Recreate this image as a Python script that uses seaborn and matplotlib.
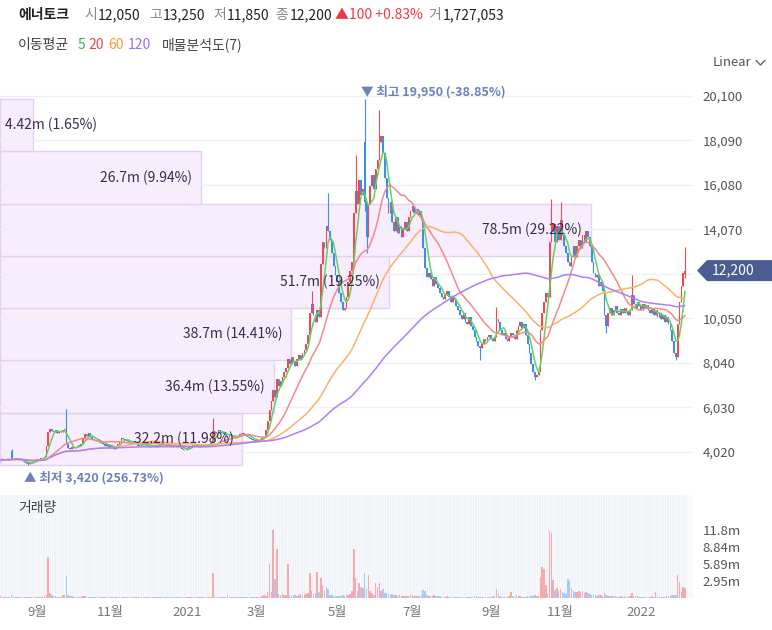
import numpy as np
import pandas as pd
import matplotlib
matplotlib.use('Agg')
import matplotlib.pyplot as plt
import matplotlib.transforms as mtransforms
from matplotlib.lines import Line2D
from matplotlib.patches import Polygon
import seaborn as sns

# daily closes, Aug 2020 - Feb 2022 (won)
close = [
    3650, 3680, 3630, 3660, 3700, 3640, 3720, 3700, 3680, 3720,
    3660, 3640, 3580, 3550, 3500, 3460, 3500, 3540, 3600, 3650,
    3700, 3680, 3720, 3750, 3800, 4300, 4900, 5050, 4950, 4900,
    5000, 4880, 4950, 4900, 5000, 5050, 4350, 4200, 4150, 4230,
    4180, 4250, 4300, 4280, 4350, 4650, 4800, 4750, 4850, 4700,
    4600, 4550, 4500, 4600, 4450, 4400, 4350, 4300, 4380, 4250,
    4300, 4200, 4150, 4250, 4350, 4500, 4650, 4600, 4550, 4500,
    4450, 4400, 4500, 4380, 4350, 4300, 4280, 4320, 4400, 4350,
    4300, 4250, 4300, 4320, 4280, 4250, 4300, 4350, 4400, 4380,
    4320, 4300, 4280, 4250, 4300, 4260, 4230, 4280, 4250, 4150,
    4100, 4080, 4150, 4250, 4300, 4280, 4350, 4300, 4250, 4300,
    4350, 4320, 4280, 4300, 4350, 4400, 4950, 4850, 4900, 5000,
    4950, 4850, 4800, 4750, 4700, 4800, 4750, 4700, 4650, 4700,
    4750, 4800, 4850, 4800, 4750, 4700, 4650, 4600, 4550, 4500,
    4550, 4500, 4600, 4650, 4700, 5000, 5400, 5900, 6300, 6800,
    6500, 7300, 7000, 7200, 7400, 7600, 7800, 8200, 8000, 8300,
    8100, 7900, 8200, 8400, 8200, 8500, 8600, 8900, 9300, 10300,
    10700, 10200, 9900, 10400, 10100, 12500, 13500, 13200, 14200, 14000,
    13600, 13000, 12400, 12000, 11700, 11200, 10800, 10400, 10500, 11000,
    11700, 12200, 12600, 14800, 15800, 15200, 16300, 15600, 15900, 15300,
    13700, 15200, 16000, 16500, 15900, 16800, 17200, 18000, 18300, 17500,
    16400, 15500, 14800, 15300, 14400, 14000, 14600, 13900, 14200, 13700,
    14100, 14400, 14000, 14600, 14900, 15100, 14800, 15000, 14700, 14900,
    14500, 13200, 12300, 11900, 12100, 11800, 11500, 11900, 11600, 11400,
    11200, 11000, 10900, 11100, 11300, 11000, 10800, 11000, 10900, 10600,
    10400, 10200, 10000, 10300, 9900, 9800, 10100, 9700, 9500, 9200,
    9000, 8800, 8700, 8900, 9100, 9000, 9200, 9300, 9100, 9000,
    9200, 10000, 9900, 9500, 9300, 9400, 9100, 9000, 9200, 9400,
    9300, 9100, 9500, 9700, 9900, 9600, 9800, 9300, 8900, 8500,
    8000, 7600, 7400, 7500, 7600, 9500, 10300, 10800, 11200, 11000,
    13500, 14000, 14300, 13500, 14200, 13600, 14500, 13800, 13300, 13000,
    12600, 12400, 12900, 13300, 12800, 13300, 13600, 13200, 13800, 13500,
    14000, 13700, 13300, 12600, 12100, 11900, 12000, 11500, 11700, 11300,
    10200, 9700, 10300, 10500, 10200, 10400, 10600, 10300, 10200, 10450,
    10300, 10500, 10350, 10200, 10400, 11100, 10700, 10500, 10800, 10600,
    10400, 10700, 10500, 10650, 10400, 10300, 10500, 10200, 10400, 10100,
    10300, 10000, 10200, 9900, 10100, 9800, 9500, 9000, 8500, 8300,
    9800, 10800, 11500, 12100, 12200,
]
# days that did not open at the previous close
gap_open = {0: 3620, 6: 4050, 36: 5800, 199: 18000, 374: 12050}
# visible wicks
wick_high = {6: 4120, 36: 5950, 116: 5550, 170: 11300, 179: 15700, 194: 17400,
             199: 19950, 207: 19450, 271: 10550, 301: 15450, 306: 15300,
             345: 12000, 374: 13250}
wick_low = {15: 3420, 199: 14900, 200: 13000, 262: 8150, 292: 7250,
            331: 9380, 369: 8150, 374: 11850}

# daily volume (millions of shares)
volume = [
    0.3, 0.2, 0.2, 0.1, 0.2, 0.2, 0.5, 0.2, 0.1, 0.1,
    0.1, 0.1, 0.1, 0.2, 0.1, 0.2, 0.1, 0.1, 0.1, 0.1,
    0.1, 0.1, 0.1, 0.2, 0.3, 0.6, 7.1, 0.9, 0.6, 0.3,
    0.3, 0.2, 0.2, 0.2, 0.6, 0.5, 3.8, 0.5, 0.4, 0.3,
    0.2, 0.2, 0.1, 0.1, 0.2, 0.3, 0.3, 0.2, 0.2, 0.2,
    0.2, 0.1, 0.1, 0.1, 0.1, 0.1, 0.1, 0.1, 0.1, 0.1,
    0.1, 0.1, 0.1, 0.1, 0.1, 0.2, 0.2, 0.1, 0.1, 0.1,
    0.1, 0.1, 0.1, 0.1, 0.1, 0.1, 0.1, 0.1, 0.1, 0.1,
    0.1, 0.1, 0.1, 0.1, 0.1, 0.1, 0.1, 0.1, 0.1, 0.1,
    0.1, 0.1, 0.1, 0.1, 0.1, 0.1, 0.1, 0.1, 0.1, 0.1,
    0.1, 0.1, 0.1, 0.1, 0.1, 0.1, 0.1, 0.1, 0.1, 0.1,
    0.1, 0.1, 0.1, 0.1, 0.1, 0.2, 4.3, 0.3, 0.2, 0.2,
    0.1, 0.1, 0.1, 0.2, 0.6, 0.2, 0.1, 0.1, 0.1, 0.1,
    0.1, 0.1, 0.1, 0.1, 0.1, 0.1, 0.1, 0.1, 0.1, 0.1,
    0.1, 0.1, 0.2, 0.3, 0.5, 0.4, 1.0, 5.9, 1.1, 11.79,
    3.3, 8.5, 0.7, 0.5, 0.7, 0.6, 0.5, 5.9, 0.5, 0.4,
    0.6, 0.5, 0.4, 0.5, 0.7, 0.5, 0.6, 0.7, 0.9, 4.3,
    1.2, 0.8, 0.9, 4.5, 1.0, 3.4, 2.2, 1.2, 2.0, 1.5,
    0.6, 0.5, 0.3, 0.3, 0.4, 0.3, 0.4, 0.5, 0.3, 0.5,
    0.6, 0.7, 1.3, 8.5, 3.5, 1.2, 2.6, 2.0, 1.8, 4.3,
    1.5, 4.0, 1.3, 0.8, 0.6, 2.6, 1.9, 2.6, 1.2, 1.5,
    0.9, 0.8, 0.7, 0.6, 0.7, 0.5, 0.5, 0.4, 0.5, 0.4,
    0.4, 0.4, 0.3, 0.4, 0.5, 0.6, 0.4, 0.4, 0.3, 0.4,
    0.5, 1.4, 1.3, 0.5, 0.4, 0.3, 0.3, 0.6, 0.3, 0.3,
    0.3, 0.2, 0.2, 0.2, 0.3, 0.2, 0.2, 0.2, 0.2, 0.2,
    0.2, 0.2, 0.2, 0.2, 0.2, 0.2, 0.2, 0.2, 0.2, 0.3,
    0.3, 0.2, 0.2, 0.2, 0.2, 0.2, 0.2, 0.2, 0.2, 0.3,
    0.4, 1.6, 0.9, 0.3, 0.2, 0.2, 0.2, 0.2, 0.3, 1.0,
    0.4, 0.2, 0.5, 0.3, 0.3, 0.2, 0.2, 0.2, 0.3, 0.3,
    0.4, 0.4, 0.5, 0.3, 0.4, 3.6, 5.4, 5.1, 2.3, 0.9,
    11.7, 11.3, 3.2, 1.4, 1.7, 1.2, 1.6, 1.0, 0.8, 0.7,
    3.3, 2.9, 1.7, 1.2, 1.0, 1.1, 1.3, 1.0, 1.2, 0.9,
    1.0, 0.8, 0.7, 0.6, 0.5, 0.5, 0.4, 0.5, 0.6, 0.4,
    0.9, 0.5, 0.4, 0.3, 0.3, 0.3, 0.3, 0.2, 0.2, 0.3,
    0.2, 0.3, 0.2, 0.2, 0.3, 0.9, 0.4, 0.3, 0.3, 0.2,
    0.2, 0.2, 0.2, 0.2, 0.2, 0.2, 0.3, 0.2, 1.1, 0.3,
    0.2, 0.2, 0.2, 0.2, 0.3, 0.3, 0.4, 0.5, 0.6, 0.5,
    4.0, 2.7, 1.1, 2.0, 1.727053,
]

krx_holidays = ['2020-08-17', '2020-09-30', '2020-10-01', '2020-10-02', '2020-10-09',
                '2020-12-25', '2020-12-31', '2021-01-01', '2021-02-11', '2021-02-12',
                '2021-03-01', '2021-05-05', '2021-05-19', '2021-08-16', '2021-09-20',
                '2021-09-21', '2021-09-22', '2021-10-04', '2021-10-11', '2021-12-31',
                '2022-01-31', '2022-02-01', '2022-02-02']

# volume profile (매물분석도, 7 price bins from low to high)
prof_vol = [32.2, 36.4, 38.7, 51.7, 78.5, 26.7, 4.42]
prof_pct = [11.98, 13.55, 14.41, 19.25, 29.22, 9.94, 1.65]

ma_windows = [5, 20, 60, 120]
ma_colors = ['#62d262', '#f28a8a', '#f7b368', '#b07ef7']
ma_label_colors = ['#3cb043', '#f0474f', '#f59a3c', '#a06cf2']
price_ticks = [4020, 6030, 8040, 10050, 12060, 14070, 16080, 18090, 20100]

UP, DOWN = '#f04a4f', '#3a8fe8'
VUP, VDOWN = '#f7a9ac', '#a6cdf5'

# ---- build frame ----
n = len(close)
idx = np.arange(n)
df = pd.DataFrame({'close': close, 'volume': volume})
df['open'] = [gap_open.get(i, close[i - 1] if i else close[0]) for i in idx]
df['high'] = [max(o, c, wick_high.get(i, 0)) for i, (o, c) in enumerate(zip(df.open, df.close))]
df['low'] = [min(o, c, wick_low.get(i, 10 ** 9)) for i, (o, c) in enumerate(zip(df.open, df.close))]
df['up'] = df.close >= df.open
for w in ma_windows:
    df[f'ma{w}'] = df.close.rolling(w, min_periods=1).mean()
dates = pd.bdate_range('2020-08-03', periods=n, freq='C', holidays=krx_holidays)

sns.set_theme(style='white')
plt.rcParams['font.family'] = ['Noto Sans CJK KR', 'DejaVu Sans']
plt.rcParams['axes.unicode_minus'] = False

W, H = 772, 630
fig = plt.figure(figsize=(W / 100, H / 100), dpi=100)
fig.patch.set_facecolor('white')
ax = fig.add_axes([0, (H - 490) / H, 693 / W, (490 - 75) / H])
axv = fig.add_axes([0, (H - 598) / H, 693 / W, (598 - 495) / H])
xlim = (-0.3, 378.4)

# ---- price panel ----
ax.set_xlim(*xlim)
ax.set_ylim(2290, 21035)
ax.set_axisbelow('line')
ax.grid(axis='y', color='#eef0f4', lw=1)
ax.grid(axis='x', visible=False)

# volume profile
edges = np.linspace(df.low.min(), df.high.max(), len(prof_vol) + 1)
centers = (edges[:-1] + edges[1:]) / 2
frac = np.array(prof_vol) / max(prof_vol) * 0.853
trans = mtransforms.blended_transform_factory(ax.transAxes, ax.transData)
ax.barh(centers, frac, height=edges[1] - edges[0], left=0, transform=trans,
        color='#f8edfd', edgecolor='#e6d0f2', lw=1, zorder=1)
for c, v, p, f in zip(centers, prof_vol, prof_pct, frac):
    txt = f'{v:g}m ({p:.2f}%)'
    if f * 693 > 120:
        t = mtransforms.offset_copy(trans, fig=fig, x=-9, y=0, units='dots')
        ax.text(f, c, txt, transform=t, ha='right', va='center', fontsize=10, color='#3b2d4b', zorder=6)
    else:
        t = mtransforms.offset_copy(trans, fig=fig, x=5, y=0, units='dots')
        ax.text(0, c, txt, transform=t, ha='left', va='center', fontsize=10, color='#3b2d4b', zorder=6)

# candles
ccol = np.where(df.up, UP, DOWN)
body = (df.close - df.open).abs().clip(lower=25)
ax.vlines(idx, df.low, df.high, colors=ccol, lw=0.8, zorder=3)
ax.bar(idx, body, bottom=np.minimum(df.open, df.close), width=0.85, color=ccol, lw=0, zorder=3)

for w, col in zip(ma_windows, ma_colors):
    sns.lineplot(x=idx, y=df[f'ma{w}'].values, ax=ax, color=col, lw=1.1, legend=False, zorder=4)

last = df.close.iloc[-1]
ax.yaxis.tick_right()
ax.set_yticks(price_ticks)
# the tick nearest the last price sits under the current-price tag
ax.set_yticklabels(['' if abs(t - last) < 500 else f'{t:,}' for t in price_ticks])
ax.tick_params(axis='y', length=0, pad=7, labelsize=9.5, labelcolor='#555555')
ax.tick_params(axis='x', bottom=False, labelbottom=False)
ax.set_xlabel('')
ax.set_ylabel('')
sns.despine(ax=ax, left=True, right=True, top=True, bottom=True)

# high / low markers
imax, imin = df.high.idxmax(), df.low.idxmin()
hmax, lmin = df.high.max(), df.low.min()
ax.annotate(f'▼ 최고 {hmax:,} ({(last / hmax - 1) * 100:.2f}%)', xy=(imax, hmax), xytext=(-4, 8),
            textcoords='offset pixels', ha='left', va='center', fontsize=9, color='#6d80b8',
            fontweight='bold', zorder=7)
ax.annotate(f'▲ 최저 {lmin:,} ({(last / lmin - 1) * 100:.2f}%)', xy=(imin, lmin), xytext=(-4, -13),
            textcoords='offset pixels', ha='left', va='center', fontsize=9, color='#6d80b8',
            fontweight='bold', zorder=7)

# current price tag (pentagon pointing at the axis)
yc = ax.transData.transform((0, last))[1]
x0 = ax.bbox.x1
tag = Polygon([(x0 + 4, yc), (x0 + 14, yc + 10.5), (W, yc + 10.5), (W, yc - 10.5), (x0 + 14, yc - 10.5)],
              closed=True, fc='#4a5d92', ec='none', transform=mtransforms.IdentityTransform(), zorder=9)
fig.add_artist(tag)
fig.text((x0 + 19) / W, yc / H, f'{last:,}', ha='left', va='center', color='white', fontsize=10, zorder=10)

# ---- volume panel ----
axv.set_facecolor('#f8f9fc')
axv.set_xlim(*xlim)
vmax = df.volume.max()
axv.set_ylim(0, vmax * 1.52)
axv.vlines(idx, 0, vmax * 1.52, colors='#eef1f7', lw=0.6, zorder=0)
axv.bar(idx, df.volume, width=0.85, color=np.where(df.up, VUP, VDOWN), lw=0, zorder=2)
axv.grid(False)
axv.yaxis.tick_right()
vt = vmax * np.arange(1, 5) / 4
axv.set_yticks(vt)
axv.set_yticklabels([f'{v:.3g}m' for v in vt])

pos = pd.Series(idx, index=dates)
firsts = pos.groupby([dates.year, dates.month]).first()
xt, xl = [], []
for (y, m), i in firsts.items():
    if m % 2 == 1:
        xt.append(i)
        xl.append(str(y) if m == 1 else f'{m}월')
axv.set_xticks(xt)
axv.set_xticklabels(xl)
axv.tick_params(axis='x', length=0, pad=6, labelsize=9.5, labelcolor='#777777')
axv.tick_params(axis='y', length=0, pad=7, labelsize=9.5, labelcolor='#555555')
sns.despine(ax=axv, left=True, right=True, top=True, bottom=True)
fig.text(18 / W, 1 - 508 / H, '거래량', fontsize=10, color='#444444', va='center')

# ---- header ----
o, h, l = df.open.iloc[-1], df.high.iloc[-1], df.low.iloc[-1]
chg = last - df.close.iloc[-2]
row1 = [('에너토크', 18, '#222222', 'bold'), ('시', 84, '#888888', 'normal'), (f'{o:,}', 98, '#222222', 'normal'),
        ('고', 149, '#888888', 'normal'), (f'{h:,}', 163, '#222222', 'normal'),
        ('저', 213, '#888888', 'normal'), (f'{l:,}', 227, '#222222', 'normal'),
        ('종', 275, '#888888', 'normal'), (f'{last:,}', 290, '#222222', 'normal'),
        (f'▲{chg:,} +{chg / df.close.iloc[-2] * 100:.2f}%', 335, '#ee3a40', 'normal'),
        ('거', 428, '#888888', 'normal'), (f'{int(round(df.volume.iloc[-1] * 1e6)):,}', 443, '#222222', 'normal')]
for s, x, col, fw in row1:
    fig.text(x / W, 1 - 15 / H, s, fontsize=10, color=col, fontweight=fw, va='center')

row2 = [('이동평균', 18, '#444444')] + [(str(w), x, c) for w, x, c in zip(ma_windows, [78, 88, 108, 128], ma_label_colors)] \
       + [('매물분석도(7)', 162, '#444444')]
for s, x, col in row2:
    fig.text(x / W, 1 - 45 / H, s, fontsize=10, color=col, va='center')

fig.text(713 / W, 1 - 63 / H, 'Linear', fontsize=9.5, color='#555555', va='center')
fig.add_artist(Line2D([756 / W, 760.5 / W, 765 / W], [1 - 60.5 / H, 1 - 65 / H, 1 - 60.5 / H],
                      color='#666666', lw=1))

fig.savefig('out.png', dpi=100)
